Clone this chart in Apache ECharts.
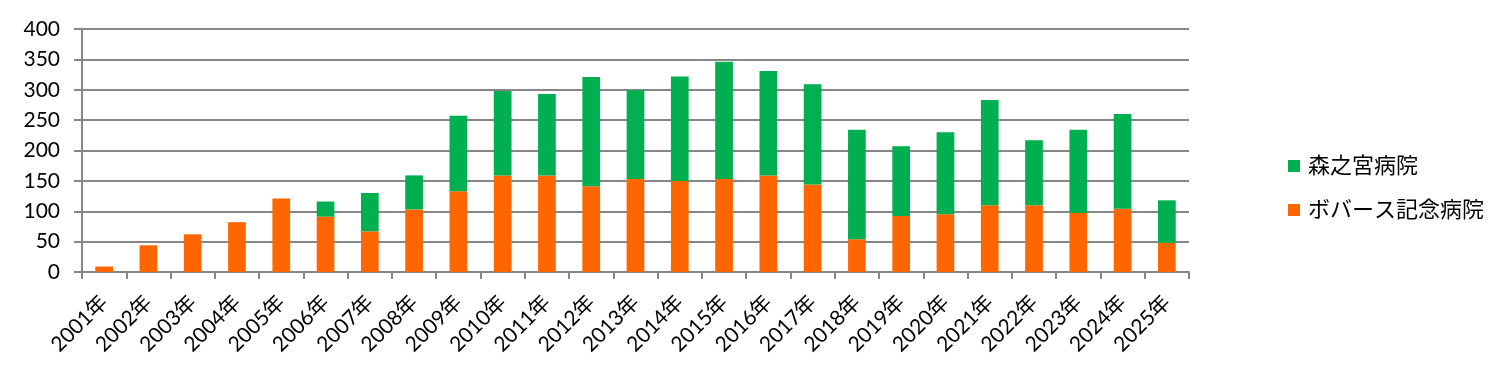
<!DOCTYPE html>
<html><head><meta charset="utf-8">
<script src="https://cdn.jsdelivr.net/npm/echarts@6/dist/echarts.min.js"></script>
<style>html,body{margin:0;padding:0;background:#fff}#c{width:1497px;height:365px}</style>
</head><body><div id="c"></div>
<script>
const categories = ['2001年','2002年','2003年','2004年','2005年','2006年','2007年','2008年','2009年','2010年','2011年','2012年','2013年','2014年','2015年','2016年','2017年','2018年','2019年','2020年','2021年','2022年','2023年','2024年','2025年'];
const bobathValues = [9,44,62,82,121,91,67,103,133,159,159,141,153,150,153,159,144,54,92,95,110,110,97,104,48];
const morinomiyaValues = [0,0,0,0,0,25,63,56,124,139,134,180,146,172,193,172,165,180,115,135,173,107,137,156,70];
const yTicks = [0,50,100,150,200,250,300,350,400];
const seriesNames = ['ボバース記念病院','森之宮病院'];

const font = 'Lato, "Noto Sans CJK JP", sans-serif';
const chart = echarts.init(document.getElementById('c'), null, {renderer:'canvas'});
chart.setOption({
  animation:false,
  grid:{left:82,right:308,top:29,bottom:93,containLabel:false},
  legend:{
    orient:'vertical', left:1283, top:150, itemWidth:12, itemHeight:12, itemGap:22,
    data:[seriesNames[1],seriesNames[0]],
    textStyle:{fontFamily:font,fontSize:22,color:'#000',padding:[0,0,0,3]},
    icon:'rect'
  },
  xAxis:{
    type:'category', data:categories,
    axisLine:{lineStyle:{color:'#868686',width:2}},
    axisTick:{show:true,length:7,lineStyle:{color:'#868686',width:2},alignWithLabel:false},
    axisLabel:{rotate:45,interval:0,fontFamily:font,fontSize:21,color:'#000',margin:27}
  },
  yAxis:{
    type:'value', min:yTicks[0], max:yTicks[yTicks.length-1], interval:50,
    axisLine:{show:true,lineStyle:{color:'#868686',width:2}},
    axisTick:{show:true,length:8,lineStyle:{color:'#868686',width:2}},
    splitLine:{lineStyle:{color:'#868686',width:2}},
    axisLabel:{fontFamily:font,fontSize:21,color:'#000',margin:22}
  },
  series:[
    {name:seriesNames[0],type:'bar',stack:'a',data:bobathValues,barWidth:'40%',itemStyle:{color:'#FF6600'}},
    {name:seriesNames[1],type:'bar',stack:'a',data:morinomiyaValues,barWidth:'40%',itemStyle:{color:'#00B050'}}
  ]
});
</script></body></html>
